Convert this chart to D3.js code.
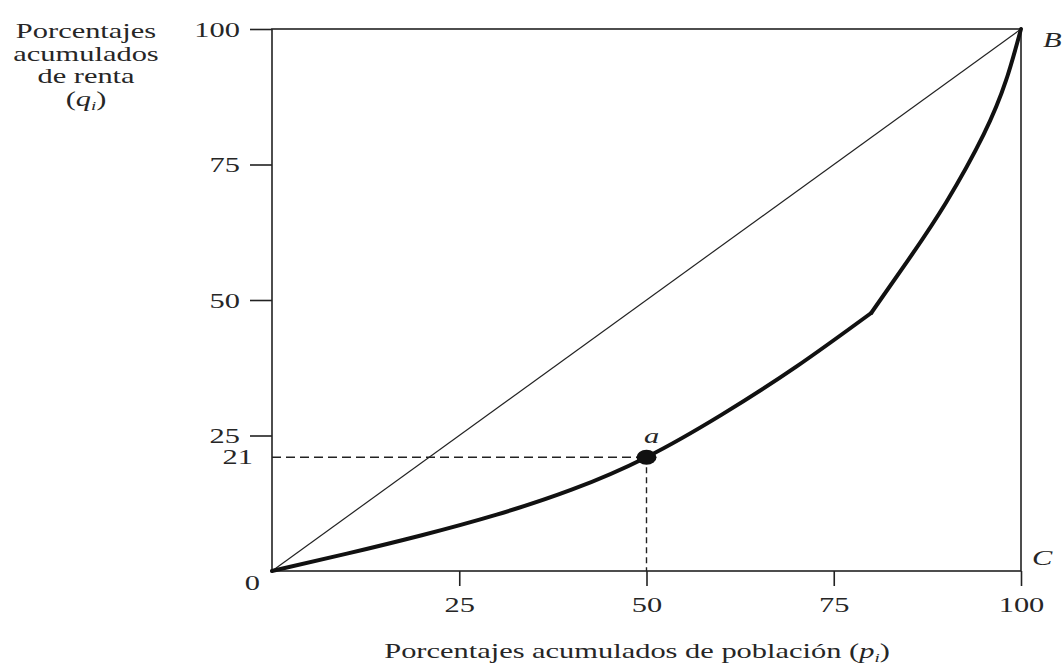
<!DOCTYPE html>
<html>
<head>
<meta charset="utf-8">
<script src="https://cdn.jsdelivr.net/npm/d3@7"></script>
<style>
  html, body { margin: 0; padding: 0; background: #fff; }
  svg { display: block; }
  text { font-family: "Liberation Serif", "Times New Roman", serif; fill: #262626; }
</style>
</head>
<body>
<svg id="chart" width="1062" height="666"></svg>
<script>
// ---- data ----
const popPct   = [0, 10, 20, 30, 40, 50, 60, 70, 80, 85, 90, 95, 98, 100];
const rentaPct = [0, 3.2, 6.6, 10.4, 15.0, 21, 28.8, 37.7, 47.6, 57.5, 68, 80.5, 90.5, 100];
const equality = [[0, 0], [100, 100]];
const pointA = { p: 50, q: 21, label: "a" };
const xTicks = [25, 50, 75, 100];
const yTicks = [25, 50, 75, 100];
const yTitleLines = ["Porcentajes", "acumulados", "de renta"];

const SX = 1.45;       // horizontal stretch of the reference glyphs
const FS = 21;

const svg = d3.select("#chart");
const x = d3.scaleLinear().domain([0, 100]).range([272, 1021]);
const y = d3.scaleLinear().domain([0, 100]).range([571, 29]);

function stext(parent, px, py, str, anchor, italic) {
  const t = parent.append("text")
    .attr("transform", `translate(${px},${py}) scale(${SX},1)`)
    .attr("text-anchor", anchor || "middle")
    .style("font-size", FS + "px");
  if (italic) t.style("font-style", "italic");
  if (str !== null) t.text(str);
  return t;
}

// frame (top and right sides)
svg.append("rect")
  .attr("x", x(0)).attr("y", y(100))
  .attr("width", x(100) - x(0)).attr("height", y(0) - y(100))
  .attr("fill", "none").attr("stroke", "#222").attr("stroke-width", 1.6);

// axes
const xAxis = d3.axisBottom(x).tickValues(xTicks).tickSize(15).tickPadding(11).tickFormat(d3.format("d"));
const gx = svg.append("g").attr("transform", `translate(0,${y(0)})`).call(xAxis);
gx.select(".domain").remove();
gx.selectAll(".tick line").attr("stroke", "#222").attr("stroke-width", 1.6);
gx.selectAll(".tick text").each(function() {
  const t = d3.select(this);
  const yy = +t.attr("y");
  t.attr("y", null).attr("dy", null)
   .attr("transform", `translate(0,${yy + 15}) scale(${SX},1)`)
   .style("font-size", FS + "px").attr("fill", "#262626");
});
gx.attr("font-family", null).attr("font-size", null);

const yAxis = d3.axisLeft(y).tickValues(yTicks).tickSize(22).tickPadding(10).tickFormat(d3.format("d"));
const gy = svg.append("g").attr("transform", `translate(${x(0)},0)`).call(yAxis);
gy.select(".domain").remove();
gy.selectAll(".tick line").attr("stroke", "#222").attr("stroke-width", 1.6);
gy.selectAll(".tick text").each(function() {
  const t = d3.select(this);
  t.attr("x", null).attr("dy", null)
   .attr("transform", `translate(-32,7) scale(${SX},1)`)
   .style("font-size", FS + "px").attr("fill", "#262626");
});
gy.attr("font-family", null).attr("font-size", null);

// extra y labels: 21 and 0
stext(svg, x(0) - 19, y(pointA.q) + 7, String(pointA.q), "end");
stext(svg, x(0) - 12, y(0) + 19, "0", "end");

// equality line
svg.append("path")
  .attr("d", d3.line().x(d => x(d[0])).y(d => y(d[1]))(equality))
  .attr("fill", "none").attr("stroke", "#222").attr("stroke-width", 1.2);

// dashed guides to point a
svg.append("line")
  .attr("x1", x(0)).attr("x2", x(pointA.p))
  .attr("y1", y(pointA.q)).attr("y2", y(pointA.q))
  .attr("stroke", "#222").attr("stroke-width", 1.4).attr("stroke-dasharray", "9,5");
svg.append("line")
  .attr("x1", x(pointA.p)).attr("x2", x(pointA.p))
  .attr("y1", y(pointA.q)).attr("y2", y(0))
  .attr("stroke", "#222").attr("stroke-width", 1.4).attr("stroke-dasharray", "6,4");

// Lorenz curve (two smooth pieces meeting at a kink at p = 80)
const pts = popPct.map((p, i) => [p, rentaPct[i]]);
const lorenz = d3.line().x(d => x(d[0])).y(d => y(d[1])).curve(d3.curveNatural);
const lower = pts.filter(d => d[0] <= 80);
const upper = pts.filter(d => d[0] >= 80);
[lower, upper].forEach(seg => {
  svg.append("path").attr("d", lorenz(seg))
    .attr("fill", "none").attr("stroke", "#111").attr("stroke-width", 4)
    .attr("stroke-linejoin", "round").attr("stroke-linecap", "round");
});

// point a
svg.append("ellipse")
  .attr("cx", x(pointA.p)).attr("cy", y(pointA.q))
  .attr("rx", 10).attr("ry", 7.5).attr("fill", "#111");
stext(svg, x(pointA.p) + 5, y(pointA.q) - 14, pointA.label, "middle", true);

// corner labels
stext(svg, 1043, 47, "B", "start", true);
stext(svg, 1032, 565, "C", "start", true);

// y-axis title
yTitleLines.forEach((line, i) => stext(svg, 86, 38 + i * 22.5, line, "middle"));
const yq = stext(svg, 86, 38 + 3 * 22.5, null, "middle");
yq.append("tspan").text("(");
yq.append("tspan").style("font-style", "italic").text("q");
yq.append("tspan").style("font-style", "italic").style("font-size", "13px").attr("dy", 4).text("i");
yq.append("tspan").attr("dy", -4).text(")");

// x-axis title
const xt = stext(svg, 637, 658, null, "middle");
xt.append("tspan").text("Porcentajes acumulados de población (");
xt.append("tspan").style("font-style", "italic").text("p");
xt.append("tspan").style("font-style", "italic").style("font-size", "13px").attr("dy", 4).text("i");
xt.append("tspan").attr("dy", -4).text(")");
</script>
</body>
</html>
